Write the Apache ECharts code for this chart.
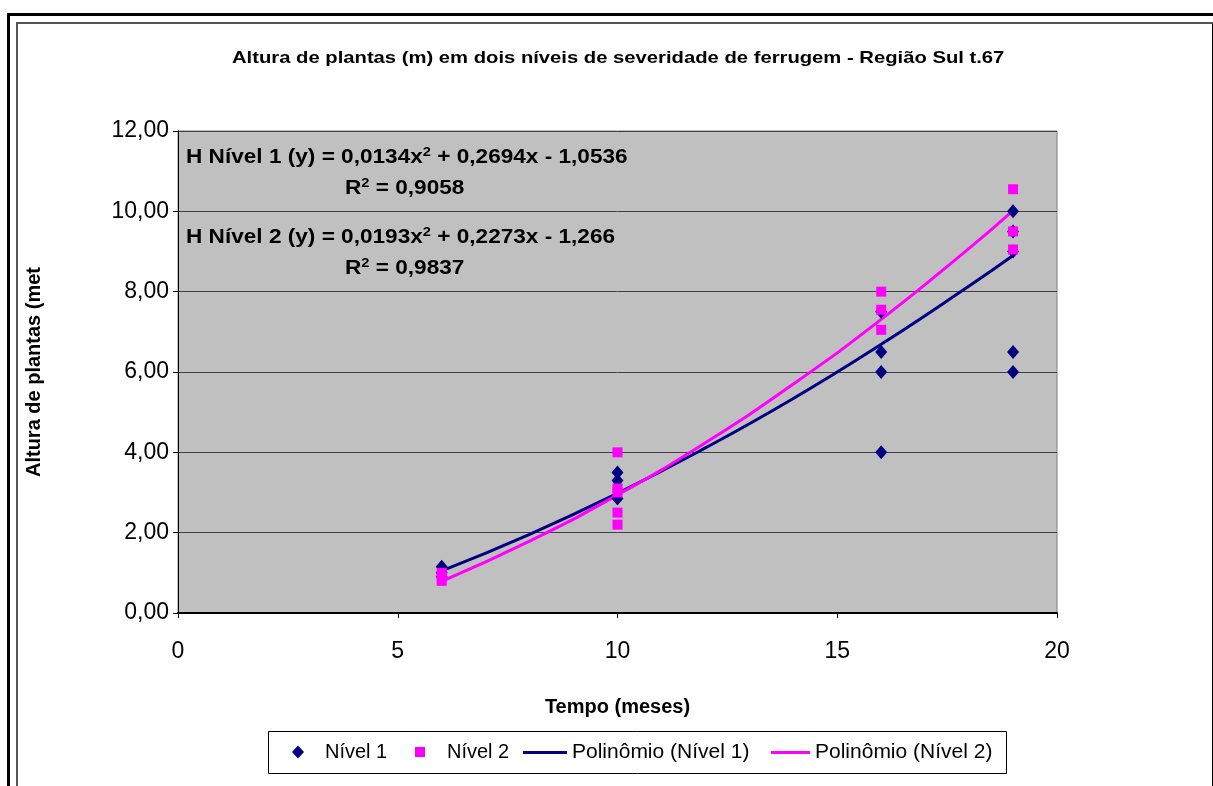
<!DOCTYPE html>
<html>
<head>
<meta charset="utf-8">
<script src="https://cdn.jsdelivr.net/npm/echarts@6/dist/echarts.min.js"></script>
<style>
  html, body { margin: 0; padding: 0; background: #fff; }
  .frame-outer {
    position: absolute; left: 7px; top: 13px; width: 1220px; height: 800px;
    border-top: 3px solid #000; border-left: 3px solid #000;
  }
  .frame-inner {
    position: absolute; left: 16px; top: 22px; width: 1194px; height: 800px;
    border-top: 2px solid #555; border-left: 2px solid #555; border-right: 2px solid #000;
  }
  #chart { position: absolute; left: 0; top: 0; width: 1213px; height: 786px; }
</style>
</head>
<body>
<div class="frame-outer"></div>
<div class="frame-inner"></div>
<div id="chart"></div>
<script>
// observations: [tempo (meses), altura (m)]
const nivel1 = [
  [6, 1.15], [6, 1.0], [6, 0.9],
  [10, 3.5], [10, 3.3], [10, 2.85],
  [16, 7.5], [16, 6.5], [16, 6.0], [16, 4.0],
  [19, 10.0], [19, 9.5], [19, 9.0], [19, 6.5], [19, 6.0]
];
const nivel2 = [
  [6, 1.0], [6, 0.9], [6, 0.8],
  [10, 4.0], [10, 3.1], [10, 3.0], [10, 2.5], [10, 2.2],
  [16, 8.0], [16, 7.55], [16, 7.05],
  [19, 10.55], [19, 9.5], [19, 9.05]
];
// trend curves
const poli1 = [[6, 1.05], [8, 1.96], [10, 2.98], [12, 4.11], [14, 5.34], [16, 6.69], [18, 8.14], [19, 8.90]];
const poli2 = [[6, 0.79], [8, 1.79], [10, 2.94], [12, 4.24], [14, 5.70], [16, 7.31], [18, 9.08], [19, 10.02]];

const navy = "#000080";
const pink = "#FF00FF";
const font = "Liberation Sans, Arial, sans-serif";

const chart = echarts.init(document.getElementById("chart"));

const eqRich = {
  b: { fontFamily: font, fontSize: 20, fontWeight: "bold", color: "#000" },
  sup: { fontFamily: font, fontSize: 13, fontWeight: "bold", color: "#000", verticalAlign: "top", padding: [0, 0, 10, 0] }
};
const legendText = { fontFamily: font, fontSize: 20, color: "#000" };

function eqText(x, y, text) {
  return { type: "text", x: x, y: y, scaleX: 1.13, style: { text: text, rich: eqRich } };
}

chart.setOption({
  animation: false,
  grid: {
    left: 178, right: 156, top: 131, bottom: 173,
    show: true, backgroundColor: "#C0C0C0", borderColor: "#808080", borderWidth: 1
  },
  xAxis: {
    type: "value", min: 0, max: 20, interval: 5,
    name: "Tempo (meses)", nameLocation: "middle", nameGap: 84,
    nameTextStyle: { fontFamily: font, fontSize: 20, fontWeight: "bold", color: "#000" },
    axisLine: { onZero: false, lineStyle: { color: "#000", width: 2 } },
    axisTick: { show: true, inside: false, length: 5, lineStyle: { color: "#000" } },
    axisLabel: { fontFamily: font, fontSize: 23, color: "#000", margin: 27 },
    splitLine: { show: false }
  },
  yAxis: {
    type: "value", min: 0, max: 12, interval: 2,
    name: "Altura de plantas (met", nameLocation: "middle", nameGap: 134,
    nameTextStyle: { fontFamily: font, fontSize: 20, fontWeight: "bold", color: "#000" },
    axisLine: { show: true, lineStyle: { color: "#000", width: 1 } },
    axisTick: { show: true, length: 5, lineStyle: { color: "#000" } },
    axisLabel: {
      fontFamily: font, fontSize: 23, color: "#000", margin: 9,
      formatter: (v) => v.toFixed(2).replace(".", ",")
    },
    splitLine: { show: true, lineStyle: { color: "#404040", width: 1 } }
  },
  legend: [
    {
      left: 292, top: 742, padding: 0, itemWidth: 12, itemHeight: 13,
      textStyle: Object.assign({ padding: [0, 0, 0, 16] }, legendText),
      data: [{ name: "Nível 1", icon: "diamond" }]
    },
    {
      left: 415, top: 742, padding: 0, itemWidth: 10, itemHeight: 10,
      textStyle: Object.assign({ padding: [0, 0, 0, 17] }, legendText),
      data: [{ name: "Nível 2", icon: "rect" }]
    },
    {
      left: 523, top: 742, padding: 0, itemWidth: 44, itemHeight: 3,
      textStyle: Object.assign({}, legendText, { fontSize: 21 }),
      data: [{ name: "Polinômio (Nível 1)", icon: "rect" }]
    },
    {
      left: 771, top: 742, padding: 0, itemWidth: 39, itemHeight: 3,
      textStyle: Object.assign({}, legendText, { fontSize: 21 }),
      data: [{ name: "Polinômio (Nível 2)", icon: "rect" }]
    }
  ],
  graphic: [
    {
      type: "rect", left: 268, top: 731, z: -1,
      shape: { width: 738, height: 42 },
      style: { fill: "#fff", stroke: "#000", lineWidth: 1 }
    },
    {
      type: "text", x: 232, y: 50, scaleX: 1.19,
      style: {
        text: "Altura de plantas (m) em dois níveis de severidade de ferrugem - Região Sul t.67",
        fontFamily: font, fontSize: 17, fontWeight: "bold", fill: "#000"
      }
    },
    eqText(186, 146, "{b|H Nível 1 (y) = 0,0134x}{sup|2}{b| + 0,2694x - 1,0536}"),
    eqText(345, 177, "{b|R}{sup|2}{b| = 0,9058}"),
    eqText(186, 226, "{b|H Nível 2 (y) = 0,0193x}{sup|2}{b| + 0,2273x - 1,266}"),
    eqText(345, 257, "{b|R}{sup|2}{b| = 0,9837}")
  ],
  series: [
    {
      name: "Polinômio (Nível 1)", type: "line", data: poli1, smooth: true,
      symbol: "none", color: navy, lineStyle: { color: navy, width: 3 }, z: 2
    },
    {
      name: "Polinômio (Nível 2)", type: "line", data: poli2, smooth: true,
      symbol: "none", color: pink, lineStyle: { color: pink, width: 3 }, z: 3
    },
    {
      name: "Nível 1", type: "scatter", data: nivel1, symbol: "diamond",
      symbolSize: [12, 14], itemStyle: { color: navy, opacity: 1 }, z: 4
    },
    {
      name: "Nível 2", type: "scatter", data: nivel2, symbol: "rect",
      symbolSize: 10, itemStyle: { color: pink, opacity: 1 }, z: 5
    }
  ]
});
</script>
</body>
</html>
